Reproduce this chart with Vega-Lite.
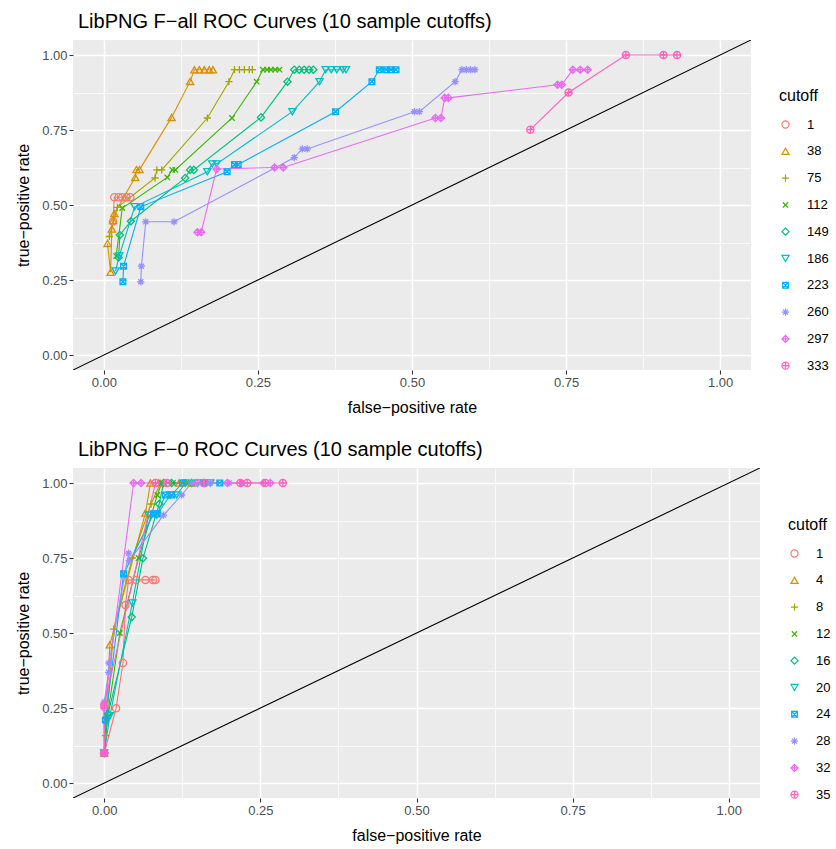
{
  "$schema": "https://vega.github.io/schema/vega-lite/v6.json",
  "padding": {"left": 15, "top": 12, "right": 5, "bottom": 5},
  "config": {
    "font": "Liberation Sans",
    "view": {"fill": "#EBEBEB", "stroke": null},
    "concat": {"spacing": 25},
    "axis": {
      "labelFontSize": 13, "labelColor": "#4D4D4D", "tickColor": "#333333", "tickSize": 4, "tickWidth": 1.1,
      "domain": false, "titleFontSize": 16, "titleFontWeight": "normal", "titleColor": "black",
      "labelPadding": 2, "labelFlush": false, "labelOverlap": false
    },
    "axisX": {"titlePadding": 10},
    "axisY": {"titlePadding": 10},
    "title": {"fontSize": 20, "fontWeight": "normal", "color": "black", "anchor": "start", "frame": "group", "offset": 8, "dx": 5},
    "legend": {"titleFontSize": 16, "titleFontWeight": "normal", "titleColor": "black", "labelFontSize": 13, "labelColor": "black", "rowPadding": 12.8, "symbolSize": 50, "symbolStrokeWidth": 1.2, "titlePadding": 14, "labelOffset": 15}
  },
  "datasets": {
    "fall": [
      {"cutoff": 1, "fpr": 0.015, "tpr": 0.445}, {"cutoff": 1, "fpr": 0.017, "tpr": 0.526}, {"cutoff": 1, "fpr": 0.024, "tpr": 0.526}, {"cutoff": 1, "fpr": 0.030, "tpr": 0.526}, {"cutoff": 1, "fpr": 0.037, "tpr": 0.526}, {"cutoff": 1, "fpr": 0.043, "tpr": 0.526},
      {"cutoff": 38, "fpr": 0.006, "tpr": 0.372}, {"cutoff": 38, "fpr": 0.011, "tpr": 0.276}, {"cutoff": 38, "fpr": 0.013, "tpr": 0.42}, {"cutoff": 38, "fpr": 0.015, "tpr": 0.448}, {"cutoff": 38, "fpr": 0.017, "tpr": 0.472}, {"cutoff": 38, "fpr": 0.051, "tpr": 0.592}, {"cutoff": 38, "fpr": 0.053, "tpr": 0.618}, {"cutoff": 38, "fpr": 0.058, "tpr": 0.618}, {"cutoff": 38, "fpr": 0.110, "tpr": 0.792}, {"cutoff": 38, "fpr": 0.140, "tpr": 0.912}, {"cutoff": 38, "fpr": 0.147, "tpr": 0.951}, {"cutoff": 38, "fpr": 0.155, "tpr": 0.951}, {"cutoff": 38, "fpr": 0.163, "tpr": 0.951}, {"cutoff": 38, "fpr": 0.171, "tpr": 0.951}, {"cutoff": 38, "fpr": 0.177, "tpr": 0.951},
      {"cutoff": 75, "fpr": 0.009, "tpr": 0.395}, {"cutoff": 75, "fpr": 0.022, "tpr": 0.492}, {"cutoff": 75, "fpr": 0.083, "tpr": 0.590}, {"cutoff": 75, "fpr": 0.086, "tpr": 0.617}, {"cutoff": 75, "fpr": 0.094, "tpr": 0.617}, {"cutoff": 75, "fpr": 0.168, "tpr": 0.790}, {"cutoff": 75, "fpr": 0.203, "tpr": 0.911}, {"cutoff": 75, "fpr": 0.212, "tpr": 0.951}, {"cutoff": 75, "fpr": 0.220, "tpr": 0.951}, {"cutoff": 75, "fpr": 0.228, "tpr": 0.951}, {"cutoff": 75, "fpr": 0.236, "tpr": 0.951}, {"cutoff": 75, "fpr": 0.241, "tpr": 0.951},
      {"cutoff": 112, "fpr": 0.020, "tpr": 0.330}, {"cutoff": 112, "fpr": 0.030, "tpr": 0.490}, {"cutoff": 112, "fpr": 0.103, "tpr": 0.592}, {"cutoff": 112, "fpr": 0.111, "tpr": 0.617}, {"cutoff": 112, "fpr": 0.116, "tpr": 0.617}, {"cutoff": 112, "fpr": 0.208, "tpr": 0.790}, {"cutoff": 112, "fpr": 0.248, "tpr": 0.911}, {"cutoff": 112, "fpr": 0.258, "tpr": 0.951}, {"cutoff": 112, "fpr": 0.265, "tpr": 0.951}, {"cutoff": 112, "fpr": 0.271, "tpr": 0.951}, {"cutoff": 112, "fpr": 0.278, "tpr": 0.951}, {"cutoff": 112, "fpr": 0.285, "tpr": 0.951},
      {"cutoff": 149, "fpr": 0.024, "tpr": 0.325}, {"cutoff": 149, "fpr": 0.026, "tpr": 0.400}, {"cutoff": 149, "fpr": 0.044, "tpr": 0.446}, {"cutoff": 149, "fpr": 0.132, "tpr": 0.590}, {"cutoff": 149, "fpr": 0.140, "tpr": 0.617}, {"cutoff": 149, "fpr": 0.146, "tpr": 0.617}, {"cutoff": 149, "fpr": 0.255, "tpr": 0.792}, {"cutoff": 149, "fpr": 0.298, "tpr": 0.911}, {"cutoff": 149, "fpr": 0.309, "tpr": 0.951}, {"cutoff": 149, "fpr": 0.317, "tpr": 0.951}, {"cutoff": 149, "fpr": 0.325, "tpr": 0.951}, {"cutoff": 149, "fpr": 0.333, "tpr": 0.951}, {"cutoff": 149, "fpr": 0.340, "tpr": 0.951},
      {"cutoff": 186, "fpr": 0.019, "tpr": 0.280}, {"cutoff": 186, "fpr": 0.025, "tpr": 0.330}, {"cutoff": 186, "fpr": 0.050, "tpr": 0.494}, {"cutoff": 186, "fpr": 0.168, "tpr": 0.611}, {"cutoff": 186, "fpr": 0.176, "tpr": 0.637}, {"cutoff": 186, "fpr": 0.183, "tpr": 0.637}, {"cutoff": 186, "fpr": 0.306, "tpr": 0.811}, {"cutoff": 186, "fpr": 0.350, "tpr": 0.911}, {"cutoff": 186, "fpr": 0.360, "tpr": 0.951}, {"cutoff": 186, "fpr": 0.369, "tpr": 0.951}, {"cutoff": 186, "fpr": 0.378, "tpr": 0.951}, {"cutoff": 186, "fpr": 0.388, "tpr": 0.951}, {"cutoff": 186, "fpr": 0.393, "tpr": 0.951},
      {"cutoff": 223, "fpr": 0.031, "tpr": 0.244}, {"cutoff": 223, "fpr": 0.032, "tpr": 0.296}, {"cutoff": 223, "fpr": 0.060, "tpr": 0.494}, {"cutoff": 223, "fpr": 0.200, "tpr": 0.611}, {"cutoff": 223, "fpr": 0.212, "tpr": 0.635}, {"cutoff": 223, "fpr": 0.218, "tpr": 0.635}, {"cutoff": 223, "fpr": 0.376, "tpr": 0.811}, {"cutoff": 223, "fpr": 0.435, "tpr": 0.911}, {"cutoff": 223, "fpr": 0.447, "tpr": 0.951}, {"cutoff": 223, "fpr": 0.458, "tpr": 0.951}, {"cutoff": 223, "fpr": 0.466, "tpr": 0.951}, {"cutoff": 223, "fpr": 0.474, "tpr": 0.951},
      {"cutoff": 260, "fpr": 0.060, "tpr": 0.244}, {"cutoff": 260, "fpr": 0.061, "tpr": 0.296}, {"cutoff": 260, "fpr": 0.068, "tpr": 0.444}, {"cutoff": 260, "fpr": 0.114, "tpr": 0.444}, {"cutoff": 260, "fpr": 0.309, "tpr": 0.658}, {"cutoff": 260, "fpr": 0.322, "tpr": 0.687}, {"cutoff": 260, "fpr": 0.330, "tpr": 0.687}, {"cutoff": 260, "fpr": 0.504, "tpr": 0.811}, {"cutoff": 260, "fpr": 0.512, "tpr": 0.811}, {"cutoff": 260, "fpr": 0.570, "tpr": 0.911}, {"cutoff": 260, "fpr": 0.581, "tpr": 0.951}, {"cutoff": 260, "fpr": 0.588, "tpr": 0.951}, {"cutoff": 260, "fpr": 0.595, "tpr": 0.951}, {"cutoff": 260, "fpr": 0.602, "tpr": 0.951},
      {"cutoff": 297, "fpr": 0.152, "tpr": 0.409}, {"cutoff": 297, "fpr": 0.158, "tpr": 0.409}, {"cutoff": 297, "fpr": 0.183, "tpr": 0.620}, {"cutoff": 297, "fpr": 0.277, "tpr": 0.625}, {"cutoff": 297, "fpr": 0.291, "tpr": 0.625}, {"cutoff": 297, "fpr": 0.538, "tpr": 0.790}, {"cutoff": 297, "fpr": 0.547, "tpr": 0.790}, {"cutoff": 297, "fpr": 0.553, "tpr": 0.857}, {"cutoff": 297, "fpr": 0.559, "tpr": 0.857}, {"cutoff": 297, "fpr": 0.736, "tpr": 0.901}, {"cutoff": 297, "fpr": 0.743, "tpr": 0.901}, {"cutoff": 297, "fpr": 0.761, "tpr": 0.951}, {"cutoff": 297, "fpr": 0.773, "tpr": 0.951}, {"cutoff": 297, "fpr": 0.785, "tpr": 0.951},
      {"cutoff": 333, "fpr": 0.692, "tpr": 0.751}, {"cutoff": 333, "fpr": 0.754, "tpr": 0.875}, {"cutoff": 333, "fpr": 0.847, "tpr": 1.0}, {"cutoff": 333, "fpr": 0.908, "tpr": 1.0}, {"cutoff": 333, "fpr": 0.930, "tpr": 1.0}
    ],
    "f0": [
      {"cutoff": 1, "fpr": 0.0, "tpr": 0.10}, {"cutoff": 1, "fpr": 0.019, "tpr": 0.249}, {"cutoff": 1, "fpr": 0.030, "tpr": 0.40}, {"cutoff": 1, "fpr": 0.034, "tpr": 0.593}, {"cutoff": 1, "fpr": 0.039, "tpr": 0.677}, {"cutoff": 1, "fpr": 0.051, "tpr": 0.677}, {"cutoff": 1, "fpr": 0.066, "tpr": 0.677}, {"cutoff": 1, "fpr": 0.078, "tpr": 0.677}, {"cutoff": 1, "fpr": 0.082, "tpr": 0.677},
      {"cutoff": 4, "fpr": 0.0, "tpr": 0.10}, {"cutoff": 4, "fpr": 0.009, "tpr": 0.461}, {"cutoff": 4, "fpr": 0.066, "tpr": 0.90}, {"cutoff": 4, "fpr": 0.074, "tpr": 1.0}, {"cutoff": 4, "fpr": 0.087, "tpr": 1.0}, {"cutoff": 4, "fpr": 0.12, "tpr": 1.0}, {"cutoff": 4, "fpr": 0.14, "tpr": 1.0},
      {"cutoff": 8, "fpr": 0.0, "tpr": 0.10}, {"cutoff": 8, "fpr": 0.002, "tpr": 0.158}, {"cutoff": 8, "fpr": 0.015, "tpr": 0.513}, {"cutoff": 8, "fpr": 0.045, "tpr": 0.75}, {"cutoff": 8, "fpr": 0.075, "tpr": 0.93}, {"cutoff": 8, "fpr": 0.09, "tpr": 1.0}, {"cutoff": 8, "fpr": 0.105, "tpr": 1.0}, {"cutoff": 8, "fpr": 0.13, "tpr": 1.0},
      {"cutoff": 12, "fpr": 0.0, "tpr": 0.10}, {"cutoff": 12, "fpr": 0.005, "tpr": 0.22}, {"cutoff": 12, "fpr": 0.025, "tpr": 0.50}, {"cutoff": 12, "fpr": 0.055, "tpr": 0.75}, {"cutoff": 12, "fpr": 0.085, "tpr": 0.96}, {"cutoff": 12, "fpr": 0.092, "tpr": 1.0}, {"cutoff": 12, "fpr": 0.11, "tpr": 1.0}, {"cutoff": 12, "fpr": 0.135, "tpr": 1.0},
      {"cutoff": 16, "fpr": 0.0, "tpr": 0.10}, {"cutoff": 16, "fpr": 0.006, "tpr": 0.23}, {"cutoff": 16, "fpr": 0.044, "tpr": 0.553}, {"cutoff": 16, "fpr": 0.062, "tpr": 0.749}, {"cutoff": 16, "fpr": 0.088, "tpr": 0.93}, {"cutoff": 16, "fpr": 0.095, "tpr": 1.0}, {"cutoff": 16, "fpr": 0.108, "tpr": 1.0}, {"cutoff": 16, "fpr": 0.14, "tpr": 1.0}, {"cutoff": 16, "fpr": 0.16, "tpr": 1.0},
      {"cutoff": 20, "fpr": 0.0, "tpr": 0.10}, {"cutoff": 20, "fpr": 0.009, "tpr": 0.224}, {"cutoff": 20, "fpr": 0.045, "tpr": 0.60}, {"cutoff": 20, "fpr": 0.071, "tpr": 0.893}, {"cutoff": 20, "fpr": 0.084, "tpr": 0.893}, {"cutoff": 20, "fpr": 0.106, "tpr": 0.96}, {"cutoff": 20, "fpr": 0.116, "tpr": 0.96}, {"cutoff": 20, "fpr": 0.13, "tpr": 1.0}, {"cutoff": 20, "fpr": 0.15, "tpr": 1.0}, {"cutoff": 20, "fpr": 0.17, "tpr": 1.0},
      {"cutoff": 24, "fpr": 0.0, "tpr": 0.10}, {"cutoff": 24, "fpr": 0.002, "tpr": 0.21}, {"cutoff": 24, "fpr": 0.031, "tpr": 0.697}, {"cutoff": 24, "fpr": 0.079, "tpr": 0.897}, {"cutoff": 24, "fpr": 0.085, "tpr": 0.897}, {"cutoff": 24, "fpr": 0.098, "tpr": 0.96}, {"cutoff": 24, "fpr": 0.108, "tpr": 0.96}, {"cutoff": 24, "fpr": 0.125, "tpr": 1.0}, {"cutoff": 24, "fpr": 0.16, "tpr": 1.0}, {"cutoff": 24, "fpr": 0.185, "tpr": 1.0},
      {"cutoff": 28, "fpr": 0.0, "tpr": 0.10}, {"cutoff": 28, "fpr": 0.0, "tpr": 0.27}, {"cutoff": 28, "fpr": 0.007, "tpr": 0.369}, {"cutoff": 28, "fpr": 0.0075, "tpr": 0.40}, {"cutoff": 28, "fpr": 0.039, "tpr": 0.766}, {"cutoff": 28, "fpr": 0.040, "tpr": 0.741}, {"cutoff": 28, "fpr": 0.095, "tpr": 0.893}, {"cutoff": 28, "fpr": 0.124, "tpr": 0.96}, {"cutoff": 28, "fpr": 0.14, "tpr": 1.0}, {"cutoff": 28, "fpr": 0.17, "tpr": 1.0}, {"cutoff": 28, "fpr": 0.20, "tpr": 1.0}, {"cutoff": 28, "fpr": 0.22, "tpr": 1.0},
      {"cutoff": 32, "fpr": 0.0, "tpr": 0.10}, {"cutoff": 32, "fpr": 0.0, "tpr": 0.25}, {"cutoff": 32, "fpr": 0.047, "tpr": 1.0}, {"cutoff": 32, "fpr": 0.059, "tpr": 1.0}, {"cutoff": 32, "fpr": 0.149, "tpr": 1.0}, {"cutoff": 32, "fpr": 0.197, "tpr": 1.0}, {"cutoff": 32, "fpr": 0.255, "tpr": 1.0}, {"cutoff": 32, "fpr": 0.266, "tpr": 1.0},
      {"cutoff": 35, "fpr": 0.0, "tpr": 0.10}, {"cutoff": 35, "fpr": 0.0, "tpr": 0.26}, {"cutoff": 35, "fpr": 0.082, "tpr": 1.0}, {"cutoff": 35, "fpr": 0.10, "tpr": 1.0}, {"cutoff": 35, "fpr": 0.16, "tpr": 1.0}, {"cutoff": 35, "fpr": 0.218, "tpr": 1.0}, {"cutoff": 35, "fpr": 0.229, "tpr": 1.0}, {"cutoff": 35, "fpr": 0.258, "tpr": 1.0}, {"cutoff": 35, "fpr": 0.286, "tpr": 1.0}
    ],
    "diag": [{"fpr": -0.05, "tpr": -0.05}, {"fpr": 1.05, "tpr": 1.05}]
  },
  "vconcat": [
    {
      "title": {"text": "LibPNG F−all ROC Curves (10 sample cutoffs)"},
      "width": 678, "height": 330,
      "resolve": {"axis": {"x": "independent", "y": "independent"}},
      "layer": [
        {
          "data": {"name": "diag"},
          "mark": {"type": "line", "color": "black", "strokeWidth": 1.1, "clip": true},
          "encoding": {
            "x": {"field": "fpr", "type": "quantitative", "scale": {"domain": [-0.05, 1.05], "nice": false, "zero": false},
                  "axis": {"orient": "top", "values": [0.125, 0.375, 0.625, 0.875], "grid": true, "gridColor": "white", "gridWidth": 0.75, "labels": false, "ticks": false, "domain": false, "title": null}},
            "y": {"field": "tpr", "type": "quantitative", "scale": {"domain": [-0.05, 1.05], "nice": false, "zero": false},
                  "axis": {"orient": "right", "values": [0.125, 0.375, 0.625, 0.875], "grid": true, "gridColor": "white", "gridWidth": 0.75, "labels": false, "ticks": false, "domain": false, "title": null}}
          }
        },
        {
          "data": {"name": "fall"},
          "mark": {"type": "line", "strokeWidth": 1.1},
          "encoding": {
            "x": {"field": "fpr", "type": "quantitative", "scale": {"domain": [-0.05, 1.05], "nice": false, "zero": false},
                  "axis": {"orient": "bottom", "values": [0, 0.25, 0.5, 0.75, 1], "format": ".2f", "grid": true, "gridColor": "white", "gridWidth": 1.5, "title": "false−positive rate"}},
            "y": {"field": "tpr", "type": "quantitative", "scale": {"domain": [-0.05, 1.05], "nice": false, "zero": false},
                  "axis": {"orient": "left", "values": [0, 0.25, 0.5, 0.75, 1], "format": ".2f", "grid": true, "gridColor": "white", "gridWidth": 1.5, "title": "true−positive rate"}},
            "color": {"field": "cutoff", "type": "ordinal", "title": "cutoff",
                      "scale": {"domain": [1, 38, 75, 112, 149, 186, 223, 260, 297, 333], "range": ["#F8766D", "#D89000", "#A3A500", "#39B600", "#00BF7D", "#00BFC4", "#00B0F6", "#9590FF", "#E76BF3", "#FF62BC"]},
                      "legend": {"orient": "none", "legendX": 706, "legendY": 48}}
          }
        },
        {
          "data": {"name": "fall"},
          "mark": {"type": "point", "filled": false, "size": 52, "strokeWidth": 1.3, "opacity": 1},
          "encoding": {
            "x": {"field": "fpr", "type": "quantitative", "axis": null},
            "y": {"field": "tpr", "type": "quantitative", "axis": null},
            "color": {"field": "cutoff", "type": "ordinal", "title": "cutoff",
                      "scale": {"domain": [1, 38, 75, 112, 149, 186, 223, 260, 297, 333], "range": ["#F8766D", "#D89000", "#A3A500", "#39B600", "#00BF7D", "#00BFC4", "#00B0F6", "#9590FF", "#E76BF3", "#FF62BC"]},
                      "legend": {"orient": "none", "legendX": 706, "legendY": 48}},
            "shape": {"field": "cutoff", "type": "ordinal", "title": "cutoff",
                      "scale": {"domain": [1, 38, 75, 112, 149, 186, 223, 260, 297, 333], "range": ["circle", "triangle-up", "M-1,0L1,0M0,-1L0,1", "M-0.75,-0.75L0.75,0.75M-0.75,0.75L0.75,-0.75", "diamond", "triangle-down", "M-0.8,-0.8H0.8V0.8H-0.8ZM-0.8,-0.8L0.8,0.8M-0.8,0.8L0.8,-0.8", "M-1,0L1,0M0,-1L0,1M-0.7,-0.7L0.7,0.7M-0.7,0.7L0.7,-0.7", "M0,-1L1,0L0,1L-1,0ZM-1,0L1,0M0,-1L0,1", "M1,0A1,1 0 1,1 -1,0A1,1 0 1,1 1,0ZM-1,0L1,0M0,-1L0,1"]},
                      "legend": {"orient": "none", "legendX": 706, "legendY": 48}}
          }
        }
      ]
    },
    {
      "title": {"text": "LibPNG F−0 ROC Curves (10 sample cutoffs)"},
      "width": 687, "height": 330,
      "resolve": {"axis": {"x": "independent", "y": "independent"}},
      "layer": [
        {
          "data": {"name": "diag"},
          "mark": {"type": "line", "color": "black", "strokeWidth": 1.1, "clip": true},
          "encoding": {
            "x": {"field": "fpr", "type": "quantitative", "scale": {"domain": [-0.05, 1.05], "nice": false, "zero": false},
                  "axis": {"orient": "top", "values": [0.125, 0.375, 0.625, 0.875], "grid": true, "gridColor": "white", "gridWidth": 0.75, "labels": false, "ticks": false, "domain": false, "title": null}},
            "y": {"field": "tpr", "type": "quantitative", "scale": {"domain": [-0.05, 1.05], "nice": false, "zero": false},
                  "axis": {"orient": "right", "values": [0.125, 0.375, 0.625, 0.875], "grid": true, "gridColor": "white", "gridWidth": 0.75, "labels": false, "ticks": false, "domain": false, "title": null}}
          }
        },
        {
          "data": {"name": "f0"},
          "mark": {"type": "line", "strokeWidth": 1.1},
          "encoding": {
            "x": {"field": "fpr", "type": "quantitative", "scale": {"domain": [-0.05, 1.05], "nice": false, "zero": false},
                  "axis": {"orient": "bottom", "values": [0, 0.25, 0.5, 0.75, 1], "format": ".2f", "grid": true, "gridColor": "white", "gridWidth": 1.5, "title": "false−positive rate"}},
            "y": {"field": "tpr", "type": "quantitative", "scale": {"domain": [-0.05, 1.05], "nice": false, "zero": false},
                  "axis": {"orient": "left", "values": [0, 0.25, 0.5, 0.75, 1], "format": ".2f", "grid": true, "gridColor": "white", "gridWidth": 1.5, "title": "true−positive rate"}},
            "color": {"field": "cutoff", "type": "ordinal", "title": "cutoff",
                      "scale": {"domain": [1, 4, 8, 12, 16, 20, 24, 28, 32, 35], "range": ["#F8766D", "#D89000", "#A3A500", "#39B600", "#00BF7D", "#00BFC4", "#00B0F6", "#9590FF", "#E76BF3", "#FF62BC"]},
                      "legend": {"orient": "none", "legendX": 715, "legendY": 49}}
          }
        },
        {
          "data": {"name": "f0"},
          "mark": {"type": "point", "filled": false, "size": 52, "strokeWidth": 1.3, "opacity": 1},
          "encoding": {
            "x": {"field": "fpr", "type": "quantitative", "axis": null},
            "y": {"field": "tpr", "type": "quantitative", "axis": null},
            "color": {"field": "cutoff", "type": "ordinal", "title": "cutoff",
                      "scale": {"domain": [1, 4, 8, 12, 16, 20, 24, 28, 32, 35], "range": ["#F8766D", "#D89000", "#A3A500", "#39B600", "#00BF7D", "#00BFC4", "#00B0F6", "#9590FF", "#E76BF3", "#FF62BC"]},
                      "legend": {"orient": "none", "legendX": 715, "legendY": 49}},
            "shape": {"field": "cutoff", "type": "ordinal", "title": "cutoff",
                      "scale": {"domain": [1, 4, 8, 12, 16, 20, 24, 28, 32, 35], "range": ["circle", "triangle-up", "M-1,0L1,0M0,-1L0,1", "M-0.75,-0.75L0.75,0.75M-0.75,0.75L0.75,-0.75", "diamond", "triangle-down", "M-0.8,-0.8H0.8V0.8H-0.8ZM-0.8,-0.8L0.8,0.8M-0.8,0.8L0.8,-0.8", "M-1,0L1,0M0,-1L0,1M-0.7,-0.7L0.7,0.7M-0.7,0.7L0.7,-0.7", "M0,-1L1,0L0,1L-1,0ZM-1,0L1,0M0,-1L0,1", "M1,0A1,1 0 1,1 -1,0A1,1 0 1,1 1,0ZM-1,0L1,0M0,-1L0,1"]},
                      "legend": {"orient": "none", "legendX": 715, "legendY": 49}}
          }
        }
      ]
    }
  ],
  "resolve": {"scale": {"color": "independent", "shape": "independent"}}
}
